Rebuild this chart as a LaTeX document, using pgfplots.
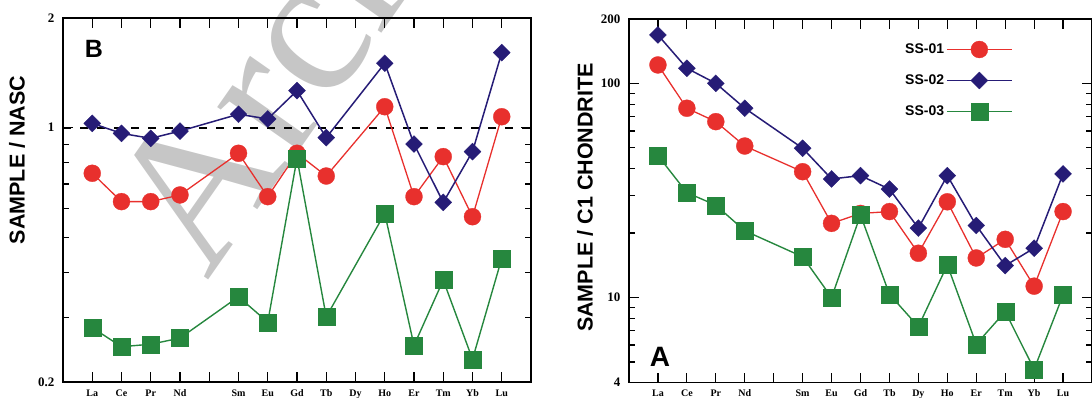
\documentclass[border=0pt]{standalone}
\usepackage{fontspec}
\setmainfont{Liberation Serif}
\newfontfamily\sans{Liberation Sans}
\usepackage{pgfplots}
\pgfplotsset{compat=1.18}

\definecolor{cred}{RGB}{232,48,45}
\definecolor{cnavy}{RGB}{38,28,118}
\definecolor{cgreen}{RGB}{38,135,62}
\definecolor{wm}{RGB}{198,198,198}

\pgfplotsset{
  ree/.style={
    scale only axis,
    xmin=-1, xmax=15,
    xtick={0,1,2,3,4,5,6,7,8,9,10,11,12,13,14},
    xticklabels={La,Ce,Pr,Nd,,Sm,Eu,Gd,Tb,Dy,Ho,Er,Tm,Yb,Lu},
    tick align=inside,
    tick pos=both,
    xticklabel pos=left, yticklabel pos=left,
    major tick length=10pt, minor tick length=6pt,
    every tick/.append style={line width=1.2pt, black},
    axis line style={line width=1.5pt},
    xticklabel style={font=\bfseries\fontsize{10}{10}\selectfont, anchor=base, yshift=-14pt},
    yticklabel style={font=\bfseries\fontsize{13}{13}\selectfont, xshift=-5pt},
  },
  s1/.style={color=cred, line width=1.3pt, mark=*, mark size=8.5pt, mark options={solid, fill=cred, draw=cred, line width=0.3pt}},
  s2/.style={color=cnavy, line width=1.5pt, mark=square*, mark size=6pt, mark options={solid, rotate=45, fill=cnavy, draw=cnavy, line width=0.3pt}},
  s3/.style={color=cgreen, line width=1.4pt, mark=square*, mark size=8.5pt, mark options={solid, fill=cgreen, draw=cgreen, line width=0.3pt}},
}

\begin{document}
\begin{tikzpicture}[x=1pt,y=1pt]
\node[anchor=base west, rotate=55, inner sep=0, text=wm, font=\fontsize{200}{200}\selectfont] at (207.7,115) {Archive};

% Panel B
\begin{semilogyaxis}[ree, at={(63pt,15pt)}, anchor=south west, width=468pt, height=364pt,
  ymin=0.2, ymax=2, ytick={0.2,1,2}, yticklabels={0.2,1,2},
  minor ytick={0.3,0.4,0.5,0.6,0.7,0.8,0.9}]
\addplot[black, line width=2pt, dash pattern=on 8pt off 9pt, forget plot] coordinates {(-1,1) (15,1)};
\addplot[s1] coordinates {(0,0.749) (1,0.626) (2,0.626) (3,0.653) (5,0.85) (6,0.646) (7,0.85) (8,0.736) (10,1.141) (11,0.646) (12,0.832) (13,0.569) (14,1.071)};
\addplot[s2] coordinates {(0,1.027) (1,0.964) (2,0.934) (3,0.978) (5,1.088) (6,1.056) (7,1.263) (8,0.938) (10,1.502) (11,0.901) (12,0.623) (13,0.859) (14,1.606)};
\addplot[s3] coordinates {(0,0.282) (1,0.250) (2,0.254) (3,0.264) (5,0.343) (6,0.292) (7,0.823) (8,0.302) (10,0.581) (11,0.252) (12,0.381) (13,0.231) (14,0.437)};
\end{semilogyaxis}

% Panel A
\begin{semilogyaxis}[ree, at={(629pt,14.3pt)}, anchor=south west, width=463pt, height=363.7pt,
  ymin=4, ymax=200, ytick={4,10,100,200}, yticklabels={4,10,100,200},
  minor ytick={5,6,7,8,9,20,30,40,50,60,70,80,90},
  legend plot pos=right,
  legend image code/.code={\draw[mark repeat=2,mark phase=2,#1] plot coordinates {(0pt,0pt) (32.5pt,0pt) (65pt,0pt)};},
  legend style={draw=none, fill=none, at={(0.829,0.94)}, anchor=north east,
    font=\sans\bfseries\fontsize{14}{14}\selectfont, row sep=14pt, inner sep=0pt,
    /tikz/every even column/.append style={column sep=5pt}},
  legend cell align=right]
\addplot[s1] coordinates {(0,122.0) (1,76.6) (2,66.3) (3,51.0) (5,38.7) (6,22.2) (7,24.7) (8,25.2) (9,16.1) (10,28.0) (11,15.3) (12,18.7) (13,11.3) (14,25.2)};
\addplot[s2] coordinates {(0,168.4) (1,117.7) (2,100.1) (3,76.6) (5,49.8) (6,35.8) (7,37.1) (8,32.1) (9,21.1) (10,37.1) (11,21.7) (12,14.1) (13,17.0) (14,37.8)};
\addplot[s3] coordinates {(0,46.0) (1,30.9) (2,27.0) (3,20.5) (5,15.5) (6,10.0) (7,24.3) (8,10.35) (9,7.31) (10,14.2) (11,6.05) (12,8.6) (13,4.62) (14,10.28)};
\legend{SS-01,SS-02,SS-03}
\end{semilogyaxis}

\node[rotate=90, font=\sans\bfseries\fontsize{21.5}{21.5}\selectfont, inner sep=0] at (17,237) {SAMPLE / NASC};
\node[rotate=90, font=\sans\bfseries\fontsize{21.5}{21.5}\selectfont, inner sep=0] at (585,199.5) {SAMPLE / C1 CHONDRITE};
\node[font=\sans\bfseries\fontsize{25}{25}\selectfont, inner sep=0] at (94,348) {B};
\node[font=\sans\bfseries\fontsize{28}{28}\selectfont, inner sep=0] at (660,40) {A};

\pgfresetboundingbox
\useasboundingbox (0,0) rectangle (1092,397);
\end{tikzpicture}
\end{document}
